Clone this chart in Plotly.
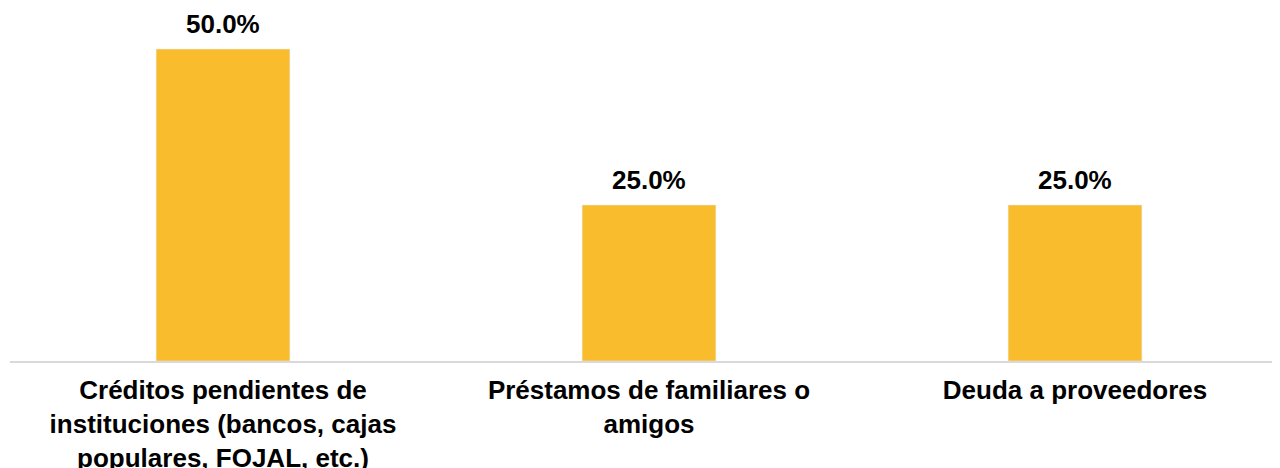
import plotly.graph_objects as go

categorias = [
    "Créditos pendientes de<br>instituciones (bancos, cajas<br>populares, FOJAL, etc.)",
    "Préstamos de familiares o<br>amigos",
    "Deuda a proveedores",
]
porcentajes = [0.50, 0.25, 0.25]
etiquetas = ["50.0%", "25.0%", "25.0%"]

fuente = "Liberation Sans, Arial"

fig = go.Figure(
    data=[go.Bar(
        x=categorias,
        y=porcentajes,
        marker=dict(color="#F9BC2C"),
        cliponaxis=False,
    )]
)

# etiquetas de datos sobre cada barra
for cat, val, txt in zip(categorias, porcentajes, etiquetas):
    fig.add_annotation(
        x=cat, y=val, text="<b>" + txt + "</b>",
        showarrow=False, yanchor="bottom", yshift=8,
        font=dict(family=fuente, size=26, color="#000000"),
    )

# la página añade 8px de margen al body, se compensa aquí
fig.update_layout(
    width=1280,
    height=468,
    margin=dict(l=2, r=0, t=2, b=115),
    paper_bgcolor="white",
    plot_bgcolor="white",
    bargap=0.686,
    showlegend=False,
    font=dict(family=fuente, size=26, color="#000000"),
)
fig.update_xaxes(
    showline=True,
    linecolor="#D9D9D9",
    linewidth=2,
    ticks="",
    ticklabelstandoff=5,
    tickvals=categorias,
    ticktext=["<b>" + c + "</b>" for c in categorias],
    tickfont=dict(family=fuente, size=26, color="#000000"),
    automargin=False,
)
fig.update_yaxes(visible=False, range=[0, 0.5626], showgrid=False)

fig.write_html("out.html")
